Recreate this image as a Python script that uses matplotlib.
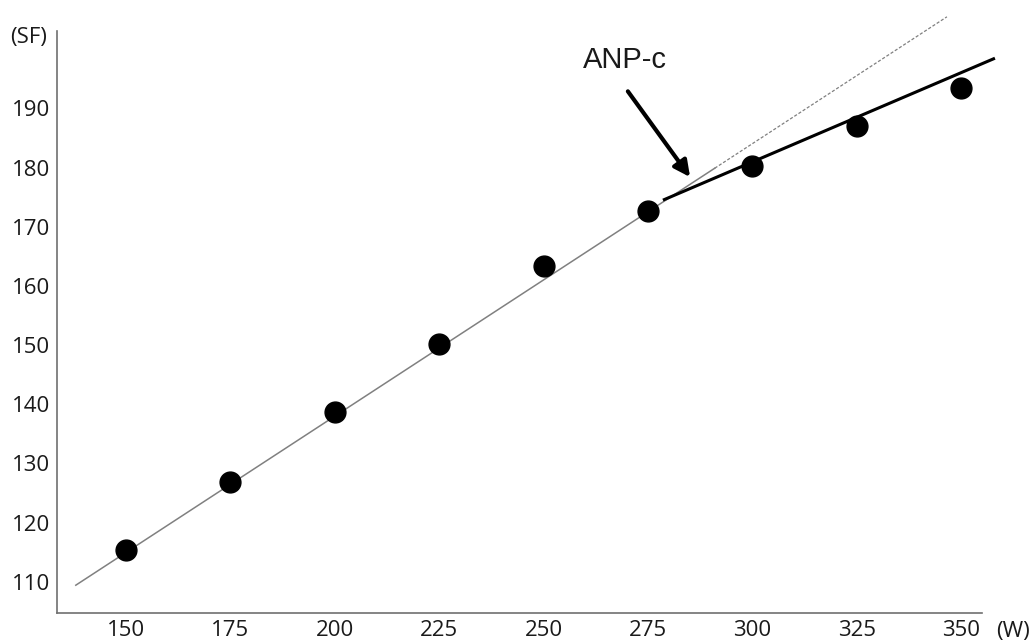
import numpy as np
import matplotlib
matplotlib.use("Agg")
import matplotlib.pyplot as plt

# workload (W) and stroke frequency (SF)
watts = [150, 175, 200, 225, 250, 275, 300, 325, 350]
sf = [115.4, 126.8, 138.6, 150.2, 163.3, 172.6, 180.3, 187.0, 193.4]

# lines as drawn in the figure (endpoints)
lower_line_w = [138.0, 291.0]
lower_line_sf = [109.4, 179.9]
extrap_line_w = [291.0, 346.6]
extrap_line_sf = [179.9, 205.5]
upper_line_w = [278.6, 358.1]
upper_line_sf = [174.5, 198.5]

xticks = [150, 175, 200, 225, 250, 275, 300, 325, 350]
yticks = [110, 120, 130, 140, 150, 160, 170, 180, 190]

fig = plt.figure(figsize=(10.35, 6.41), dpi=100)
ax = fig.add_axes([57/1035, 28/641, 925/1035, 582/641])

ax.plot(lower_line_w, lower_line_sf, color="#808080", lw=1.1, clip_on=False)
ax.plot(extrap_line_w, extrap_line_sf, color="#808080", lw=0.9,
        ls=(0, (2.5, 1.5)), clip_on=False)
ax.plot(upper_line_w, upper_line_sf, color="black", lw=2.2, clip_on=False,
        solid_capstyle="butt")
ax.plot(watts, sf, "o", color="black", ms=15, clip_on=False, zorder=5)

ax.set_xlim(133.5, 355.0)
ax.set_ylim(104.7, 203.1)

ax.spines["top"].set_visible(False)
ax.spines["right"].set_visible(False)
for s in ["left", "bottom"]:
    ax.spines[s].set_color("#707070")
    ax.spines[s].set_linewidth(1.2)

ax.set_xticks(xticks)
ax.set_yticks(yticks)
ax.tick_params(length=0, labelsize=16, labelcolor="#1a1a1a", pad=5)
for lab in ax.get_xticklabels() + ax.get_yticklabels():
    lab.set_fontfamily("Open Sans")

fig.text(47/1035, 1 - 38/641, "(SF)", ha="right", va="center",
         fontsize=16, color="#1a1a1a", family="Open Sans")
fig.text(1013/1035, 1 - 631/641, "(W)", ha="center", va="center",
         fontsize=16, color="#1a1a1a", family="Open Sans")

ax.text(269.5, 198.2, "ANP-c", ha="center", va="center", fontsize=21,
        color="#1a1a1a", family="Liberation Sans")
ax.annotate("", xy=(285.1, 178.4), xytext=(270.2, 192.9),
            arrowprops=dict(arrowstyle="-|>", color="black", lw=3,
                            mutation_scale=24, shrinkA=0, shrinkB=0))

fig.savefig("out.png", dpi=100)
